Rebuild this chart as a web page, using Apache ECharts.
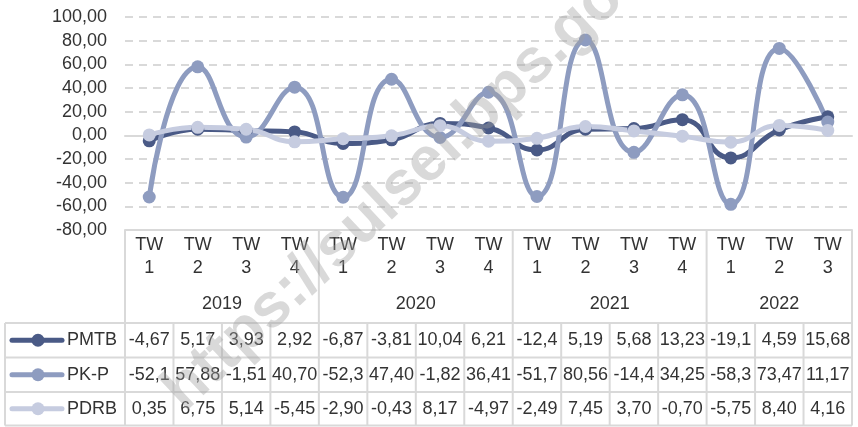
<!DOCTYPE html>
<html>
<head>
<meta charset="utf-8">
<script src="https://cdn.jsdelivr.net/npm/echarts@6/dist/echarts.min.js"></script>
<style>
    html, body { margin: 0; padding: 0; background: #fff; }
    #chart { width: 858px; height: 427px; }
</style>
</head>
<body>
<div id="chart"></div>
<script>
// data
var quarters = ['1', '2', '3', '4', '1', '2', '3', '4', '1', '2', '3', '4', '1', '2', '3'];
var years = ['2019', '2020', '2021', '2022'];
var yearSpans = [4, 4, 4, 3];
var pmtb = [-4.67, 5.17, 3.93, 2.92, -6.87, -3.81, 10.04, 6.21, -12.4, 5.19, 5.68, 13.23, -19.1, 4.59, 15.68];
var pkp = [-52.1, 57.88, -1.51, 40.70, -52.3, 47.40, -1.82, 36.41, -51.7, 80.56, -14.4, 34.25, -58.3, 73.47, 11.17];
var pdrb = [0.35, 6.75, 5.14, -5.45, -2.90, -0.43, 8.17, -4.97, -2.49, 7.45, 3.70, -0.70, -5.75, 8.40, 4.16];
var seriesNames = ['PMTB', 'PK-P', 'PDRB'];
var seriesColors = ['#4a5a86', '#8e9cc0', '#c6cce0'];

(function() {
    var myChart = echarts.init(document.getElementById('chart'));
    var font = '"Liberation Sans", Arial, sans-serif';
    var fs = 18;
    var gridColor = '#d9d9d9';
    var textColor = '#333';

    function fmt(v) {
        // excel shows comma decimals, clipped to the cell width
        var s = v.toFixed(2).replace('.', ',');
        return s.length > 5 ? s.slice(0, 5) : s;
    }

    function lineSeries(name, data, color) {
        return {
            name: name,
            type: 'line',
            data: data,
            smooth: 0.5,
            symbol: 'circle',
            symbolSize: 13,
            lineStyle: { width: 5, color: color },
            itemStyle: { color: color }
        };
    }

    var option = {
        animation: false,
        grid: { left: 125, right: 6, top: 17, bottom: 197 },
        xAxis: [{
            type: 'category',
            data: quarters.map(function(q) { return 'TW\n' + q; }),
            boundaryGap: true,
            axisLine: { onZero: false, lineStyle: { color: gridColor, width: 2 } },
            axisTick: { length: 58, lineStyle: { color: gridColor, width: 2 } },
            axisLabel: { color: textColor, fontSize: fs, lineHeight: 23, margin: 4, fontFamily: font, interval: 0 }
        }, {
            // zero line
            type: 'category',
            data: quarters,
            position: 'bottom',
            axisLine: { onZero: true, lineStyle: { color: gridColor, width: 2 } },
            axisTick: { show: false },
            axisLabel: { show: false }
        }],
        yAxis: {
            type: 'value',
            min: -80,
            max: 100,
            interval: 20,
            axisLine: { show: false },
            axisTick: { show: false },
            axisLabel: {
                color: textColor, fontSize: fs, margin: 18, fontFamily: font,
                formatter: function(v) { return v.toFixed(2).replace('.', ','); }
            },
            splitLine: { lineStyle: { color: gridColor, width: 2, type: [8, 6] } }
        },
        series: [
            lineSeries(seriesNames[0], pmtb, seriesColors[0]),
            lineSeries(seriesNames[1], pkp, seriesColors[1]),
            lineSeries(seriesNames[2], pdrb, seriesColors[2])
        ]
    };
    myChart.setOption(option);

    // data table below the plot
    var n = quarters.length;
    var x0 = myChart.convertToPixel({ xAxisIndex: 0 }, 0);
    var x1 = myChart.convertToPixel({ xAxisIndex: 0 }, 1);
    var step = x1 - x0;
    function edge(i) { return x0 - step / 2 + i * step; }
    var top = 230, yearBottom = 323;
    var rowY = [323, 357.5, 392, 425.5];
    var left = 5;
    var els = [];
    function hline(x1, x2, y) {
        els.push({ type: 'line', shape: { x1: x1, y1: y, x2: x2, y2: y }, style: { stroke: gridColor, lineWidth: 2 } });
    }
    function vline(x, y1, y2) {
        els.push({ type: 'line', shape: { x1: x, y1: y1, x2: x, y2: y2 }, style: { stroke: gridColor, lineWidth: 2 } });
    }
    function text(str, x, y, align) {
        els.push({ type: 'text', x: x, y: y, style: { text: str, fill: textColor, font: fs + 'px ' + font, align: align || 'center', verticalAlign: 'middle' } });
    }

    // year row
    var k = 0;
    vline(edge(0), top, yearBottom);
    years.forEach(function(y, j) {
        var a = edge(k), b = edge(k + yearSpans[j]);
        text(y, (a + b) / 2, 304);
        k += yearSpans[j];
        vline(b, top, yearBottom);
    });

    // value rows
    rowY.forEach(function(y) { hline(left, edge(n), y); });
    vline(left, rowY[0], rowY[3]);
    for (var i = 0; i <= n; i++) vline(edge(i), rowY[0], rowY[3]);
    [pmtb, pkp, pdrb].forEach(function(arr, r) {
        var cy = (rowY[r] + rowY[r + 1]) / 2;
        // legend key
        els.push({ type: 'line', shape: { x1: 12, y1: cy, x2: 62, y2: cy }, style: { stroke: seriesColors[r], lineWidth: 5, lineCap: 'round' } });
        els.push({ type: 'circle', shape: { cx: 38, cy: cy, r: 6.5 }, style: { fill: seriesColors[r] } });
        text(seriesNames[r], 67, cy, 'left');
        arr.forEach(function(v, i) {
            text(fmt(v), myChart.convertToPixel({ xAxisIndex: 0 }, i), cy);
        });
    });

    // watermark
    els.push({
        type: 'text', x: 420, y: 170, rotation: 43 * Math.PI / 180, z: 100,
        style: { text: 'https://sulsel.bps.go.id', fill: 'rgba(160,160,160,0.4)', font: 'bold 62px ' + font, align: 'center', verticalAlign: 'middle' }
    });

    myChart.setOption({ graphic: els });
})();
</script>
</body>
</html>
